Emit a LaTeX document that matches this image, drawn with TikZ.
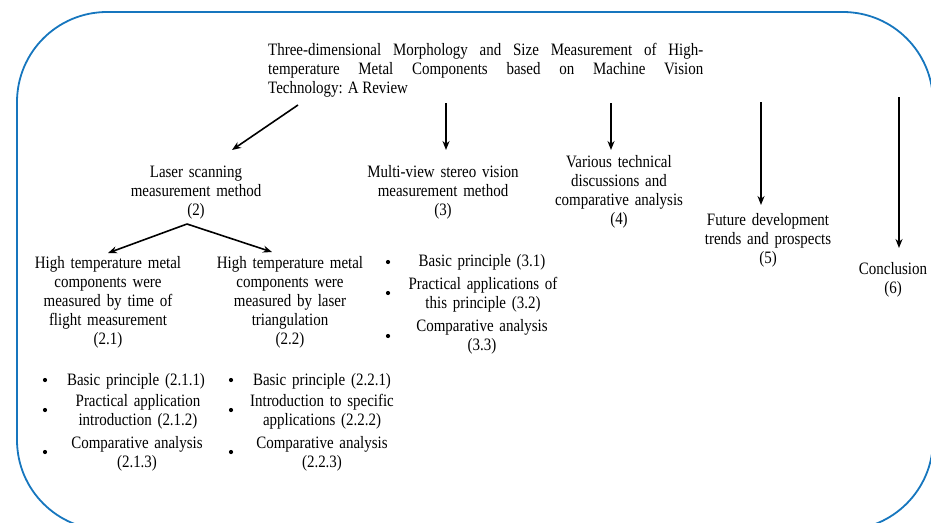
\documentclass[tikz,border=0pt]{standalone}
\usepackage{fontspec}
\setmainfont{Liberation Serif}[FakeStretch=0.86]
\usetikzlibrary{arrows.meta, positioning, calc}
\definecolor{frameblue}{RGB}{22,118,190}

\begin{document}
\begin{tikzpicture}[
  x=1pt, y=-1pt,
  txt/.style={inner sep=0pt, anchor=base, align=center, text width=#1,
              font=\fontsize{17.4}{19}\selectfont},
  txt/.default=170pt,
  arrow/.style={-{Stealth[length=9pt, width=7pt]}, line width=1.6pt},
  dot/.style={circle, fill, inner sep=0pt, minimum size=4.2pt},
  frame/.style={draw=frameblue, line width=1.8pt, rounded corners=90pt}
]
\useasboundingbox (0,0) rectangle (931,522);
\begin{scope}
  \clip (0,0) rectangle (931,522);
  \draw[frame] (17,12) rectangle (933,530);
\end{scope}

\node[txt=435pt, align=justify, anchor=base west] (title) at (268,55)
  {Three-dimensional Morphology and Size Measurement of High-\linebreak
   temperature Metal Components based on Machine Vision\linebreak
   Technology: A Review};

\node[txt] (laser) at (196,177) {Laser scanning\\measurement method\\(2)};
\node[txt] (stereo) at (443,177) {Multi-view stereo vision\\measurement method\\(3)};
\node[txt] (discuss) at (619,167) {Various technical\\discussions and\\comparative analysis\\(4)};
\node[txt] (future) at (768,225) {Future development\\trends and prospects\\(5)};
\node[txt=90pt] (concl) at (893,274) {Conclusion\\(6)};

\node[txt] (tof) at (108,268) {High temperature metal\\components were\\measured by time of\\flight measurement\\(2.1)};
\node[txt] (tri) at (290,268) {High temperature metal\\components were\\measured by laser\\triangulation\\(2.2)};

\node[txt] (t211) at (136,385) {Basic principle (2.1.1)};
\node[txt] (t212) at (138,406) {Practical application\\introduction (2.1.2)};
\node[txt] (t213) at (137,448) {Comparative analysis\\(2.1.3)};
\node[dot] (d211) at (45,380) {};
\node[dot] (d212) at (45,410) {};
\node[dot] (d213) at (45,452) {};

\node[txt] (t221) at (322,385) {Basic principle (2.2.1)};
\node[txt] (t222) at (322,406) {Introduction to specific\\applications (2.2.2)};
\node[txt] (t223) at (322,448) {Comparative analysis\\(2.2.3)};
\node[dot] (d221) at (231,380) {};
\node[dot] (d222) at (231,410) {};
\node[dot] (d223) at (231,452) {};

\node[txt] (t31) at (482,266) {Basic principle (3.1)};
\node[txt] (t32) at (483,289) {Practical applications of\\this principle (3.2)};
\node[txt] (t33) at (482,331) {Comparative analysis\\(3.3)};
\node[dot] (d31) at (388,262) {};
\node[dot] (d32) at (388,293) {};
\node[dot] (d33) at (388,336) {};

\coordinate (s2) at (298,105);
\coordinate (e2) at (232,150);
\coordinate (s3) at (446,103);
\coordinate (e3) at (446,150);
\coordinate (s4) at (611,103);
\coordinate (e4) at (611,150);
\coordinate (s5) at (761,102);
\coordinate (e5) at (761,205);
\coordinate (s6) at (899,97);
\coordinate (e6) at (899,248);
\coordinate (fork) at (187,224);
\coordinate (e21) at (108,253);
\coordinate (e22) at (272,252);

\draw[arrow] (s2) -- (e2);
\draw[arrow] (s3) -- (e3);
\draw[arrow] (s4) -- (e4);
\draw[arrow] (s5) -- (e5);
\draw[arrow] (s6) -- (e6);
\draw[arrow] (fork) -- (e21);
\draw[arrow] (fork) -- (e22);
\end{tikzpicture}
\end{document}
